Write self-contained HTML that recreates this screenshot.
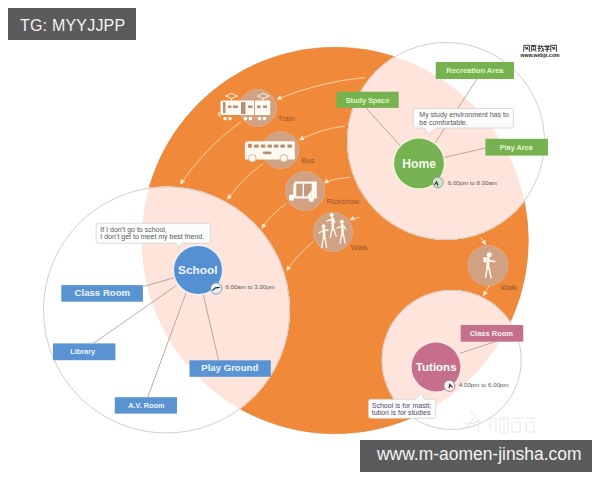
<!DOCTYPE html>
<html><head><meta charset="utf-8">
<style>
html,body{margin:0;padding:0;background:#fff;width:600px;height:480px;overflow:hidden;}
svg{position:absolute;left:0;top:0;display:block;}
text{font-family:"Liberation Sans",sans-serif;}
.box{position:absolute;background:#5b5b5b;color:#f4f4f4;font-family:"Liberation Sans",sans-serif;white-space:nowrap;}
</style></head><body>
<svg width="600" height="480" viewBox="0 0 600 480">
<defs>
<clipPath id="co"><circle cx="335" cy="240.5" r="193.3"/></clipPath>
<marker id="ah" viewBox="0 0 10 10" refX="9" refY="5" markerWidth="5" markerHeight="5" orient="auto" markerUnits="userSpaceOnUse">
<path d="M0,0 L10,5 L0,10 z" fill="#fde8cc"/>
</marker>
</defs>
<rect width="600" height="480" fill="#fff"/>
<!-- big orange circle -->
<circle cx="335" cy="240.5" r="193.3" fill="#f1893b" stroke="#d9823e" stroke-width="0.6"/>

<!-- Home outer -->
<circle cx="446" cy="141" r="99" fill="#fff"/>
<circle cx="446" cy="141" r="99" fill="#fee4da" clip-path="url(#co)"/>
<circle cx="446" cy="141" r="98.5" fill="none" stroke="#d2cfc8" stroke-width="1"/>

<!-- School outer -->
<circle cx="166.5" cy="310" r="123.5" fill="#fff"/>
<circle cx="166.5" cy="310" r="123.5" fill="#fee4da" clip-path="url(#co)"/>
<circle cx="166.5" cy="310" r="123" fill="none" stroke="#d2cfc8" stroke-width="1"/>

<!-- Tutions outer -->
<circle cx="451.7" cy="360" r="70" fill="#fff"/>
<circle cx="451.7" cy="360" r="70" fill="#fee4da" clip-path="url(#co)"/>
<circle cx="451.7" cy="360" r="69.5" fill="none" stroke="#d2cfc8" stroke-width="1"/>

<!-- arrows -->
<g fill="none" stroke="#fcd3a2" stroke-width="1" marker-end="url(#ah)">
<path d="M365,77.5 Q318,82 277,99.3"/>
<path d="M241,121.5 Q205,148 180.5,184"/>
<path d="M345,126 Q320,129 299.5,140"/>
<path d="M263.3,163.3 Q243,178 227.5,199.3"/>
<path d="M350,177.3 Q335,178 324,182.7"/>
<path d="M286.7,203.3 Q272,213 261.7,228.3"/>
<path d="M360,217.3 Q354,218 350,220"/>
<path d="M313.3,241.7 Q298,254 286.7,270.7"/>
<path d="M480.8,237.5 Q483,241 485.8,244.5"/>
<path d="M489,285.8 Q487,290 483.3,295.5"/>
</g>

<!-- transport circles -->
<g fill="#d0a283" stroke="#dcb090" stroke-width="0.8">
<circle cx="257.8" cy="108" r="18.5"/>
<circle cx="280.5" cy="150" r="18.5"/>
<circle cx="305" cy="191" r="19.5"/>
<circle cx="333" cy="232" r="19.5"/>
<circle cx="488" cy="265.5" r="20"/>
</g>

<!-- transport labels -->
<g font-size="7.6" fill="#98542c">
<text x="277.7" y="121.2">Train</text>
<text x="301.5" y="163">Bus</text>
<text x="326.6" y="204.2">Rickshow</text>
<text x="351" y="250.3">Walk</text>
<text x="500.5" y="290">Walk</text>
</g>

<!-- Train icon -->
<g fill="#fffaf2">
<path d="M222,100.5 H254 V115 H222 Q220.5,115 220.5,113.5 V102 Q220.5,100.5 222,100.5 Z"/>
<rect x="255" y="100.5" width="15.2" height="14.5" rx="0.8"/>
<path d="M219,112 V116 H221" fill="none" stroke="#fffaf2" stroke-width="0.9"/>
<path d="M225.5,96 L231.5,93.3 L237.5,96 L231.5,98.6 Z" fill="none" stroke="#fff3e0" stroke-width="1"/>
<path d="M257.2,96 L263.2,93.3 L269.2,96 L263.2,98.6 Z" fill="none" stroke="#fff3e0" stroke-width="1"/>
<rect x="231" y="98.5" width="1" height="2"/>
<rect x="262.7" y="98.5" width="1" height="2"/>
<circle cx="225" cy="118.6" r="1.8"/><circle cx="230" cy="118.6" r="1.8"/>
<circle cx="245.5" cy="118.6" r="1.8"/><circle cx="250.5" cy="118.6" r="1.8"/>
<circle cx="259.5" cy="118.6" r="1.8"/><circle cx="264.5" cy="118.6" r="1.8"/>
</g>
<g fill="#b89078">
<rect x="223" y="102" width="2.5" height="11"/>
<rect x="228" y="105.5" width="3.5" height="2.5"/>
<rect x="233" y="105.5" width="5" height="2.5"/>
<rect x="241" y="102" width="4.5" height="12"/>
<rect x="248" y="105.5" width="4.5" height="2.5"/>
<rect x="257" y="105.5" width="3.5" height="2.5"/>
<rect x="263" y="105.5" width="4" height="2.5"/>
</g>

<!-- Bus icon -->
<g fill="#fffaf2">
<path d="M248,141.3 H293.8 Q294.8,141.3 294.8,142.3 V158.4 Q294.8,159.4 293.8,159.4 H246 Q244.9,159.4 244.9,158.4 V144.5 Q244.9,141.3 248,141.3 Z"/>
<circle cx="252.3" cy="158.3" r="3.8" stroke="#d0a283" stroke-width="0.8"/>
<circle cx="283.8" cy="158.3" r="3.8" stroke="#d0a283" stroke-width="0.8"/>
</g>
<g fill="#b89078">
<rect x="248.2" y="143.7" width="3.5" height="4.1" rx="0.5" fill="#d27a4a"/>
<rect x="254" y="144.6" width="4.7" height="3.2" rx="1"/>
<rect x="260.7" y="144.6" width="4.7" height="3.2" rx="1"/>
<rect x="267.4" y="144.6" width="4.7" height="3.2" rx="1"/>
<rect x="273.8" y="144.6" width="4.7" height="3.2" rx="1"/>
<rect x="280.3" y="144.6" width="4.7" height="3.2" rx="1"/>
<rect x="287.3" y="144.6" width="4.7" height="3.2" rx="1"/>
<rect x="262.8" y="151.6" width="8.7" height="2.6" rx="1.2"/>
</g>

<!-- Rickshaw icon -->
<g fill="#fffaf2">
<path d="M295.5,181.6 H316.8 V198.4 H296 Q293.5,198.4 293.2,196 Q292.6,190 293.6,185 Q294.2,181.6 295.5,181.6 Z"/>
<path d="M289,196 Q289,194.8 290.5,194.8 H294 V200.5 H290.5 Q289,200.5 289,199 Z"/>
<circle cx="311.3" cy="199.3" r="2.6"/>
</g>
<g fill="#c79a7e">
<rect x="296.3" y="183.7" width="6.3" height="12.6"/>
<rect x="304" y="183.7" width="7.7" height="12.6"/>
</g>
<path d="M307,196.3 L311.7,190 V196.3 Z" fill="#fffaf2"/>

<!-- Walk (3 people) -->
<g fill="#fffaf0" stroke="#fffaf0" stroke-linecap="round" stroke-linejoin="round">
<circle cx="323.5" cy="226.3" r="2" stroke="none"/>
<path d="M323.9,229.3 L324.3,238.3" stroke-width="2.6" fill="none"/>
<path d="M323.2,238.3 L321.8,247.6 M325.2,238.3 L326.6,247.3 M323.5,230.5 L319,232.8 M324.5,230.5 L328.3,230" stroke-width="1.3" fill="none"/>
<circle cx="331.7" cy="214.9" r="2" stroke="none"/>
<path d="M332.4,218.2 L332.9,229.1" stroke-width="2.6" fill="none"/>
<path d="M331.9,229.1 L330.4,237.3 M333.8,229.1 L336.2,236.4 M331.8,219.5 L326.8,220.8 M333.5,219.5 L334.8,222.5" stroke-width="1.3" fill="none"/>
<circle cx="341.8" cy="221.8" r="2" stroke="none"/>
<path d="M342.2,224.7 L342.6,234.6" stroke-width="2.6" fill="none"/>
<path d="M341.6,234.6 L340.1,243.2 M343.5,234.6 L345,243.2 M341.5,226 L337.3,228.2 M343.5,225.5 L345.5,229" stroke-width="1.3" fill="none"/>
</g>

<!-- Right walk person -->
<g fill="#fffaf0" stroke="#fffaf0" stroke-linecap="round" stroke-linejoin="round">
<circle cx="489.2" cy="254.8" r="2.5" stroke="none"/>
<rect x="483.4" y="257" width="2.8" height="5.6" rx="1" stroke="none"/>
<path d="M488,258.3 L487.8,268.2" stroke-width="3" fill="none"/>
<path d="M487,268 L485.6,277.4 M489,268 L491.2,277.8 M489,260.5 L494.8,261.4" stroke-width="1.5" fill="none"/>
</g>

<!-- lines -->
<g stroke="#a0928a" stroke-width="0.75" fill="none">
<path d="M365.6,107.5 L400.5,146"/>
<path d="M477,79 L435,143"/>
<path d="M485.5,148 L444,157.5"/>
<path d="M143.3,286.5 L175.5,277.3"/>
<path d="M94,343 L176.5,285.3"/>
<path d="M147.7,397.2 L186,293"/>
<path d="M218.6,360.3 L203.3,295"/>
<path d="M460,353.3 L495,341.7"/>
</g>

<!-- Home node -->
<circle cx="419" cy="163.4" r="26.2" fill="#eef7dc"/>
<circle cx="419" cy="163.4" r="24.9" fill="#76b252"/>
<text x="419.1" y="167.5" font-size="12.1" font-weight="bold" fill="#f3fae8" text-anchor="middle">Home</text>
<!-- School node -->
<circle cx="198" cy="270" r="25.3" fill="#e8f3fc"/>
<circle cx="198" cy="270" r="24" fill="#5590d3"/>
<text x="197.75" y="273.8" font-size="11.8" font-weight="bold" fill="#eef6ff" text-anchor="middle">School</text>
<!-- Tutions node -->
<circle cx="436" cy="367" r="25.6" fill="#fbe8ee"/>
<circle cx="436" cy="367" r="24.4" fill="#c66f8a"/>
<text x="436.2" y="370.7" font-size="11.5" font-weight="bold" fill="#fff" text-anchor="middle">Tutions</text>

<!-- green boxes -->
<g fill="#76b250">
<rect x="336.4" y="91.7" width="62.3" height="16.2"/>
<rect x="435.7" y="62" width="78.3" height="17"/>
<rect x="485.4" y="138.8" width="62.6" height="16.8"/>
</g>
<g font-size="7.3" font-weight="bold" fill="#e2f6c8" text-anchor="middle">
<text x="367.6" y="103">Study Space</text>
<text x="474.9" y="73" font-size="7.5">Recreation Area</text>
<text x="516.2" y="150">Play Area</text>
</g>

<!-- blue boxes -->
<g fill="#5a93d2">
<rect x="61.3" y="285.1" width="81.6" height="16.6"/>
<rect x="53" y="343.4" width="62.4" height="16.8"/>
<rect x="189.5" y="360.3" width="81.3" height="16.5"/>
<rect x="114.8" y="397.2" width="62.2" height="16.4"/>
</g>
<g font-weight="bold" fill="#eef6ff" text-anchor="middle">
<text x="102.35" y="295.8" font-size="9.6">Class Room</text>
<text x="82.7" y="354.2" font-size="7.3">Library</text>
<text x="229.8" y="370.75" font-size="9.6">Play Ground</text>
<text x="146.4" y="408" font-size="7.3">A.V. Room</text>
</g>

<!-- pink box -->
<rect x="460.7" y="325" width="62.6" height="16.7" fill="#c5708a"/>
<text x="491.35" y="336" font-size="7.5" font-weight="bold" fill="#fbeef4" text-anchor="middle">Class Room</text>

<!-- speech bubbles -->
<g fill="#fbfdfd" stroke="#cfd3d3" stroke-width="0.8">
<path d="M98,223.2 H208.3 Q210.3,223.2 210.3,225.2 V241.2 Q210.3,243.2 208.3,243.2 H182 L178.8,247.5 L176,243.2 H98 Q96.1,243.2 96.1,241.2 V225.2 Q96.1,223.2 98,223.2 Z"/>
<path d="M415.3,108.5 H511.3 Q513.3,108.5 513.3,110.5 V126 Q513.3,128 511.3,128 H436.5 L427.7,134.6 L425,128 H415.3 Q413.3,128 413.3,126 V110.5 Q413.3,108.5 415.3,108.5 Z"/>
<path d="M370.5,399.3 H415 L422,393.3 L424,399.3 H433.7 Q435.7,399.3 435.7,401.3 V416.3 Q435.7,418.3 433.7,418.3 H370.5 Q368.5,418.3 368.5,416.3 V401.3 Q368.5,399.3 370.5,399.3 Z"/>
</g>
<g font-size="7" fill="#585858">
<text x="100.3" y="231.9">If I don’t go to school,</text>
<text x="100.3" y="238.5">I don’t get to meet my best friend.</text>
<text x="419.3" y="116.5">My study environment has to</text>
<text x="419.3" y="124.7">be comfortable.</text>
</g>
<g font-size="7.05" fill="#554868">
<text x="371.7" y="407.7">School is for masti;</text>
<text x="371.7" y="415">tution is for studies</text>
</g>

<!-- clocks -->
<g>
<circle cx="216.2" cy="288.4" r="5.6" fill="#e6f2fa" stroke="#8a9096" stroke-width="0.9"/>
<path d="M212.5,290.5 L215.4,287.8 L219.8,287.4" stroke="#23303a" stroke-width="1.2" fill="none"/>
<circle cx="437.8" cy="182.4" r="5.3" fill="#d4e8cc" stroke="#8a948a" stroke-width="0.9"/>
<path d="M434.5,184.8 L436.6,181.8 L438,185.8" stroke="#2a3a2a" stroke-width="1.2" fill="none"/>
<circle cx="449.4" cy="385.8" r="5.6" fill="#fbeef4" stroke="#8f8a8f" stroke-width="0.9"/>
<path d="M449,388 L449.8,384.5 L452.5,387.3" stroke="#3a2a3a" stroke-width="1.2" fill="none"/>
</g>
<g font-size="6.1" fill="#5a5a5a">
<text x="225.5" y="289">6.00am to 3.00pm</text>
<text x="447.8" y="184.5">6.00pm to 8.00am</text>
<text x="458.8" y="387.3" font-size="6.2">4.00pm to 6.00pm</text>
</g>

<!-- webjx logo -->
<g fill="none" stroke="#333" stroke-width="0.95">
<path d="M523.8,51.8 V45.3 H529.4 V51.8 M525,46.8 L526.8,49.6 M527.8,46.8 L526,49.6 M526.4,46.8 L528.2,49.6"/>
<path d="M530.6,45.4 H536.4 M533.4,45.4 V46.5 M531.4,46.6 H535.6 V50 H531.4 Z M533.5,47.6 V49.6 M532.2,50.2 L530.8,51.8 M534.8,50.2 L536.4,51.8"/>
<path d="M537.6,46.4 H540.8 M539.2,45 V48 M537.6,48.4 H541 M538.4,49.4 L540.2,51.6 M540.2,49.4 L538.2,51.8 M541.8,45.2 L541.4,47.6 M541.2,46.6 H543.6 M542.4,47.6 L543.6,51.8 M543.4,48.2 L541.4,51.8"/>
<path d="M545,45.2 L545.6,46.4 M546.8,45 L547,46.2 M548.8,45.2 L548.2,46.4 M544.6,47 V46.5 H549.8 V47 M545.8,47.8 H548.6 L547.2,48.8 M544.6,49.4 H549.8 M547.2,48.8 V51.8 H546.2"/>
<path d="M550.8,51.8 V45.3 H556.4 V51.8 M552,46.8 L553.8,49.6 M554.8,46.8 L553,49.6 M553.4,46.8 L555.2,49.6"/>
</g>
<text x="520.5" y="56.6" font-size="4.5" font-weight="bold" fill="#222" textLength="39" lengthAdjust="spacingAndGlyphs">www.webjx.com</text>

<!-- faint watermark -->
<g fill="none" stroke="#e6e6e6" stroke-width="1">
<path d="M470,410 Q482,418 478,432 M463,422 Q472,426 480,420 M466,428 L474,418"/>
<path d="M488,418 H496 V432 M490,422 V430 M500,418 H508 V432 H500 Z M504,418 V432 M512,418 H522 M514,422 H520 V432 H512 V422 M526,418 H536 M528,422 H534 V432 H526 V422"/>
</g>
</svg>

<div class="box" style="left:8px;top:8px;width:128px;height:32px;"><span style="position:absolute;left:12px;top:8.5px;font-size:16px;line-height:17px;letter-spacing:0.2px;">TG: MYYJJPP</span></div>
<div class="box" style="left:360px;top:440px;width:232px;height:32px;"><span style="position:absolute;left:17.3px;top:3px;font-size:18.3px;line-height:21px;transform:scaleX(0.954);transform-origin:0 0;">www.m-aomen-jinsha.com</span></div>
</body></html>
